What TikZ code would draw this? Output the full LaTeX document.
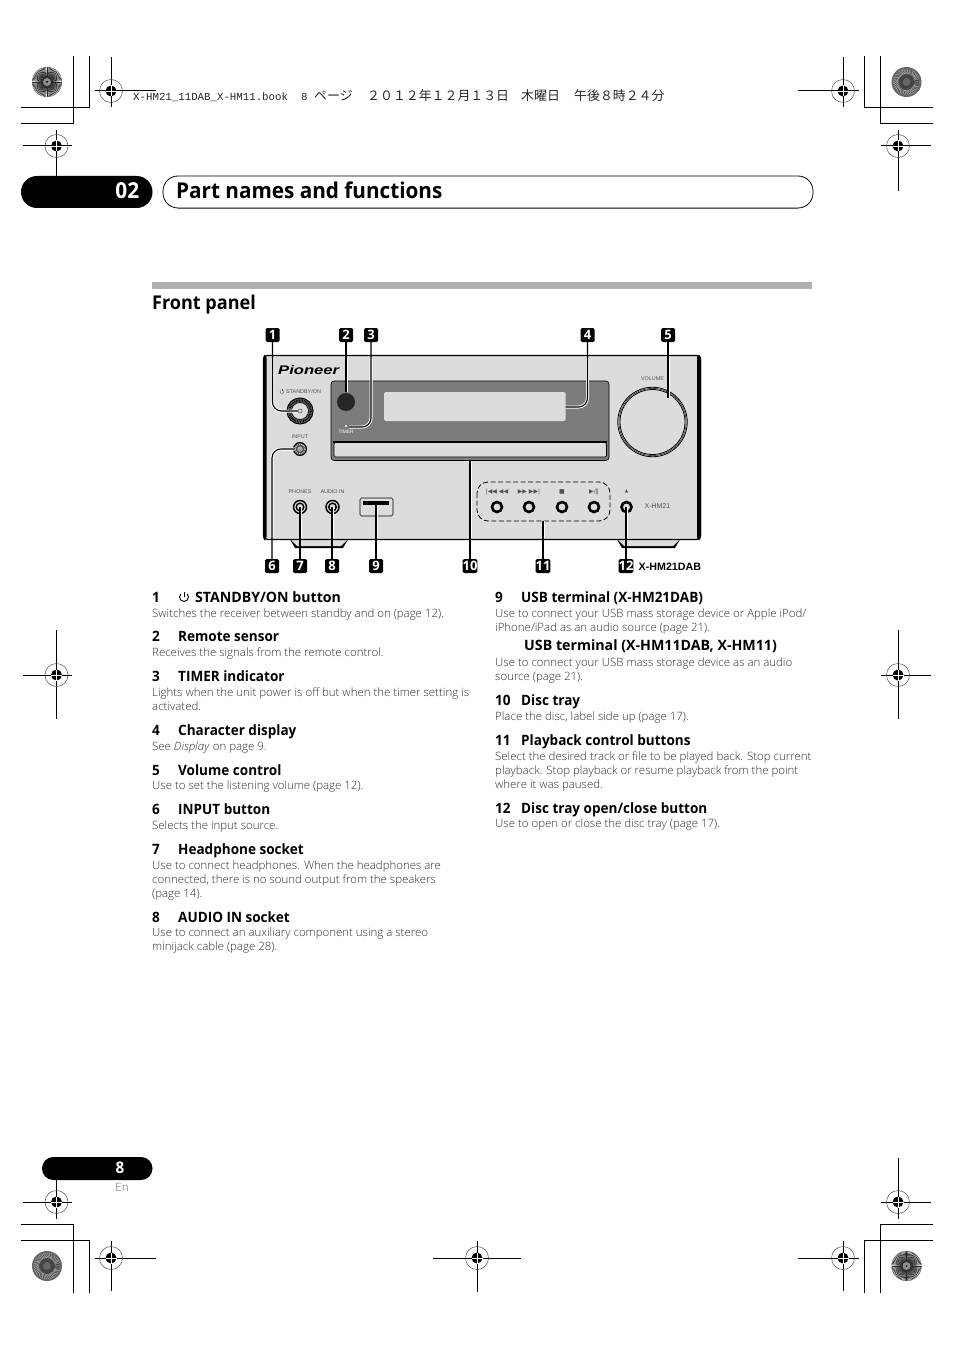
\documentclass[tikz,border=0pt]{standalone}
\usepackage{graphicx}
\usepackage{fontspec}
\setmainfont{Open Sans}
\newfontfamily\hbf[FakeStretch=0.95]{Open Sans}
\newfontfamily\lightf{Open Sans Light}
\newfontfamily\monof{Liberation Mono}
\newfontfamily\cjkf{Noto Sans CJK JP}
\newfontfamily\arialf{Liberation Sans}
\newfontfamily\symf{DejaVu Sans}
\definecolor{bodyg}{HTML}{DCDCDC}
\definecolor{panelg}{HTML}{7C7C7C}
\definecolor{txtg}{HTML}{2E2E2E}
\definecolor{labg}{HTML}{505050}
\newcommand{\fsz}[2]{\fontsize{#1}{#2}\selectfont}
\tikzset{
 crop/.style={line width=1pt,black},
 badge/.style={fill=black,rounded corners=1.5pt,minimum width=14pt,minimum height=14pt,inner sep=0pt,text=white,font=\fsz{13}{13}\bfseries},
 ttl/.style={anchor=base west,inner sep=0pt,font=\hbf\bfseries\fsz{14.25}{14}},
 dsc/.style={anchor=base west,inner sep=0pt,text=txtg,font=\lightf\fsz{11.45}{14}},
 slugt/.style={anchor=base west,inner sep=0pt,text=black!85},
 lab/.style={inner sep=0pt,text=labg,font=\arialf\fsz{5.4}{5}},
 sym/.style={inner sep=0pt,text=labg,font=\symf\fsz{6}{6}},
 halo/.style={draw=white,line width=3pt},
 lead/.style={draw=black,line width=1.1pt},
 jack/.style={circle,draw=black,line width=1.5pt,fill=bodyg,inner sep=0pt,minimum size=13pt},
 ringb/.style={circle,draw=black,line width=2.6pt,fill=bodyg,inner sep=0pt,minimum size=10pt}
}
\newcount\dc
\newcommand{\dl}[3]{\global\advance\dc by 1 \node[dsc] (dl\the\dc) at (#1,#2) {#3};}
\newcommand{\hd}[3]{\global\advance\dc by 1 \node[ttl] (hd\the\dc) at (#1,#2) {#3};}
\newcommand{\regm}[2]{%
 \draw[black!70,line width=.5pt] (#1,#2) circle (11.5);
 \fill[black] (#1,#2) circle (5.5);
 \draw[white,line width=.8pt] (#1-5.5,#2) -- (#1+5.5,#2) (#1,#2-5.5) -- (#1,#2+5.5);
}
\newcommand{\starm}[2]{%
 \foreach \a in {0,5,...,355}{\draw[black!85,line width=.6pt] (#1,#2)++(\a:3) -- ++(\a:12);}
 \draw[black!50,line width=.4pt] (#1,#2) circle (14.8);
 \fill[black!45] (#1,#2) circle (4);
 \fill[black] (#1,#2) circle (1);
}
\newcommand{\mott}[2]{%
 \fill[black!60] (#1,#2) circle (15);
 \foreach \a in {0,9,...,351}{\draw[black!75,line width=.8pt] (#1,#2)++(\a:4) -- ++(\a+30:9);\draw[black!30,line width=.5pt] (#1,#2)++(\a:8) -- ++(\a-40:6);}
}
\newcommand{\allconn}[1]{%
 \path[#1] (n1.south) -- (272.5,402) arc[start angle=180,end angle=90,radius=9] -- (t1);
 \path[#1] (n3.south)--(371,418) arc[start angle=0,end angle=90,radius=9] -- (t3);
 \path[#1] (n4.south)--(587.5,398) arc[start angle=0,end angle=90,radius=9] -- (t4);
 \path[#1] (n6.north)--(272,458) arc[start angle=180,end angle=270,radius=9] -- (t6);
 \path[#1] (n2.south)--(t2);
 \path[#1] (n5.south)--(t5);
 \path[#1] (n7.north)--(t7);
 \path[#1] (n8.north)--(t8);
 \path[#1] (n9.north)--(t9);
 \path[#1] (n10.north)--(t10);
 \path[#1] (n11.north)--(group);
 \path[#1] (n12.north)--(t12);
}
\begin{document}
\begin{tikzpicture}[x=1pt,y=-1pt]
\useasboundingbox (0,0) rectangle (954,1348);
\fill[white] (0,0) rectangle (954,1348);
% crop lines
\draw[crop] (73,56)--(73,124)--(21,124) (89,56)--(89,108)--(21,108);
\draw[crop] (880,56)--(880,124)--(933,124) (864,56)--(864,108)--(933,108);
\draw[crop] (73,1293)--(73,1224)--(21,1224) (89,1293)--(89,1240)--(21,1240);
\draw[crop] (880,1293)--(880,1224)--(933,1224) (864,1293)--(864,1240)--(933,1240);
% cross lines
\draw[crop] (95,91)--(156,91) (111,57)--(111,107);
\draw[crop] (798,91)--(859,91) (843,57)--(843,107);
\draw[crop] (23,146)--(72,146) (56.5,130)--(56.5,176);
\draw[crop] (881,146)--(931,146) (898,130)--(898,191);
\draw[crop] (23,675)--(72,675) (56.5,630)--(56.5,719);
\draw[crop] (881,675)--(931,675) (898,630)--(898,719);
\draw[crop] (23,1202)--(72,1202) (56.5,1180)--(56.5,1219);
\draw[crop] (881,1202)--(931,1202) (898,1158)--(898,1219);
\draw[crop] (95,1258)--(156,1258) (111,1241)--(111,1291);
\draw[crop] (433,1258)--(521,1258) (477,1241)--(477,1292);
\draw[crop] (798,1258)--(859,1258) (843,1241)--(843,1291);
\regm{111}{91}\regm{843}{91}\regm{56.5}{146}\regm{898}{146}\regm{56.5}{675}\regm{898}{675}
\regm{56.5}{1202}\regm{898}{1202}\regm{111}{1258}\regm{477}{1258}\regm{843}{1258}
\starm{47}{82}\mott{906.5}{82}\mott{47}{1266}\starm{906.5}{1266}
% top slug
\node[slugt] (slug) at (133,101) {\monof\fsz{10.75}{11}X-HM21\_11DAB\_X-HM11.book};
\node[slugt] (slugb) at (301,101) {\monof\fsz{10.75}{11}8};
\node[slugt] (slugc) at (314,101) {\cjkf\fsz{12.9}{13}ページ};
\node[slugt] (slugd) at (367,101) {\cjkf\fsz{12.9}{13}２０１２年１２月１３日};
\node[slugt] (sluge) at (521,101) {\cjkf\fsz{12.9}{13}木曜日};
\node[slugt] (slugf) at (574,101) {\cjkf\fsz{12.9}{13}午後８時２４分};
% header
\fill[black,rounded corners=15.9pt] (21,176) rectangle (152.5,208);
\node[inner sep=0pt,text=white,font=\hbf\bfseries\fsz{22}{22},anchor=base east] (chap) at (139.5,199) {02};
\draw[black!45,line width=1pt] (178,208.6)--(798,208.6);
\draw[black,line width=.8pt,fill=white,rounded corners=15pt] (163,176) rectangle (813,208);
\node[anchor=base west,inner sep=0pt,font=\hbf\bfseries\fsz{21.8}{24}] (title) at (176,198.5) {Part names and functions};
\fill[black!30] (152,282) rectangle (812,289);
\node[anchor=base west,inner sep=0pt,font=\hbf\bfseries\fsz{19}{19}] (front) at (152,309) {Front panel};
% page
\fill[black,rounded corners=11.4pt] (42,1157) rectangle (152.5,1180);
\node[inner sep=0pt,text=white,font=\hbf\bfseries\fsz{16}{16},anchor=base] (pg) at (120,1173) {8};
\node[inner sep=0pt,text=black!60,font=\lightf\fsz{11.5}{11},anchor=base] (en) at (122,1191) {En};
% device
\fill[black] (288,536)--(295,548)--(343,548)--(350,536)--cycle;
\fill[bodyg] (291,540)--(297,546)--(341,546)--(347,540)--cycle;
\fill[black] (615,536)--(622,548)--(675,548)--(682,536)--cycle;
\fill[bodyg] (618,540)--(624,546)--(673,546)--(679,540)--cycle;
\draw[black,line width=1.2pt,fill=bodyg,rounded corners=4pt] (263.5,355.5) rectangle (700.5,539.5);
\fill[black,rounded corners=3pt] (263,355) rectangle (266.5,540);
\fill[black,rounded corners=3pt] (697,355) rectangle (701,540);
\node[inner sep=0pt,anchor=base west] (logo) at (278,374) {\scalebox{1.33}[1]{\arialf\fsz{12.5}{12}\bfseries\itshape Pioneer}};
\draw[black,line width=.6pt,fill=panelg,rounded corners=3pt] (331,381) rectangle (609,460.5);
\fill[black] (333,441) rectangle (607,443);
\draw[black,line width=.6pt,fill=bodyg,rounded corners=1.5pt] (334,442.5) rectangle (606.5,457);
\fill[bodyg,rounded corners=1.5pt] (384,392) rectangle (565.5,421);
\fill[black!85] (346,402) circle (9);
\fill[white] (346,426) circle (1.2);
\node[inner sep=0pt,text=white,font=\arialf\fsz{4.8}{5}] (timerlab) at (346,431.5) {TIMER};
\node[lab,anchor=west] (stby) at (286,391.5) {STANDBY/ON};
\draw[labg,line width=.3pt] (283.41,390.09) arc[start angle=-45,end angle=225,radius=2];
\draw[labg,line width=.3pt] (282,388.8) -- (282,391.3);
\node[lab] (inputlab) at (300,437) {INPUT};
\node[lab] (phon) at (300,491.5) {PHONES};
\node[lab] (aud) at (332.5,491.5) {AUDIO IN};
\node[lab] (vol) at (652.5,379) {VOLUME};
\node[lab,font=\arialf\fsz{7}{7}] (model) at (657.5,506.5) {X-HM21};
\node[sym] (ic1) at (497,491.5) {|◀◀ ◀◀};
\node[sym] (ic2) at (529,491.5) {▶▶ ▶▶|};
\node[sym] (ic3) at (562,491.5) {■};
\node[sym] (ic4) at (594,491.5) {▶/‖};
\node[sym,font=\symf\fsz{4.5}{5}] (ic5) at (626.5,491.5) {▲};
% controls
\node[circle,draw=black,line width=1pt,fill=black!60,minimum size=26pt,inner sep=0pt] (standby) at (300,411) {};
\draw[black,line width=2pt,dash pattern=on .8pt off .8pt] (300,411) circle (10.8);
\node[circle,draw=black,line width=.7pt,fill=bodyg,minimum size=17pt,inner sep=0pt] (standbyi) at (300,411) {};
\node[circle,draw=black!70,line width=.5pt,inner sep=0pt,minimum size=4pt] (standbyc) at (300,411) {};
\node[circle,draw=black,line width=1pt,fill=black!70,minimum size=13pt,inner sep=0pt] (inputb) at (300,449) {};
\draw[white,line width=1pt,dash pattern=on .8pt off 1.2pt] (300,449) circle (5);
\fill[black!35] (300,449) circle (2.8);
\node[jack] (phones) at (300,507) {};
\draw[black,line width=1.4pt] (300,507) circle (3.8);
\node[jack] (audio) at (332.5,507) {};
\draw[black,line width=1.4pt] (332.5,507) circle (3.8);
\node[draw=black,line width=.6pt,fill=bodyg,rounded corners=1.5pt,minimum width=33pt,minimum height=18pt,inner sep=0pt] (usb) at (376.5,507) {};
\fill[black] (363,501) rectangle (389,505);
\node[ringb] (b1) at (497,507) {};
\node[ringb] (b2) at (529,507) {};
\node[ringb] (b3) at (562,507) {};
\node[ringb] (b4) at (594,507) {};
\node[ringb] (b5) at (626.5,507) {};
\draw[black,line width=.8pt,dash pattern=on 5pt off 2.5pt,rounded corners=11pt] (477,482) rectangle (610,521);
\coordinate (group) at (543,521);
\node[circle,draw=black,line width=.8pt,minimum size=69.5pt,inner sep=0pt] (volume) at (652.5,422) {};
\node[circle,draw=black,line width=.8pt,minimum size=65pt,inner sep=0pt] (volumei) at (652.5,422) {};
\draw[black!70,line width=.8pt] (652.5,422) circle (33.6);
% badges
\node[badge] (n1) at (272.5,335) {1};
\node[badge] (n2) at (346,335) {2};
\node[badge] (n3) at (371,335) {3};
\node[badge] (n4) at (587.5,335) {4};
\node[badge] (n5) at (668,335) {5};
\node[badge] (n6) at (272,566) {6};
\node[badge] (n7) at (300,566) {7};
\node[badge] (n8) at (332,566) {8};
\node[badge] (n9) at (376,566) {9};
\node[badge] (n10) at (470,566) {10};
\node[badge] (n11) at (543,566) {11};
\node[badge] (n12) at (626,566) {12};
\coordinate (t2) at (346,392);
\coordinate (t3) at (349,427);
\coordinate (t4) at (565.5,407);
\coordinate (t5) at (668,398);
\coordinate (t9) at (376,505);
\coordinate (t10) at (470,460.5);
\coordinate (t6) at (295,449);
\coordinate (t1) at (298,411);
\coordinate (t7) at (300,507);
\coordinate (t8) at (332,507);
\coordinate (t12) at (626,507);
% connectors: white halo only inside the unit
\begin{scope}
\clip (266,358) rectangle (697,537);
\allconn{halo}
\end{scope}
\allconn{lead}
\node[anchor=base west,inner sep=0pt,font=\arialf\fsz{10.7}{11}\bfseries] (dab) at (638.5,570.5) {X-HM21DAB};
% left text
\hd{152}{602}{1}
\draw[black,line width=.9pt] (187.2,593.8) arc[start angle=-45,end angle=225,radius=4.5];
\draw[black,line width=.9pt] (184,591.5)--(184,597);
\hd{195}{602}{\scalebox{1.045}[1]{STANDBY/ON button}}
\dl{152}{617}{Switches the receiver between standby and on (page 12).}
\hd{152}{641}{2}\hd{178}{641}{Remote sensor}
\dl{152}{656}{Receives the signals from the remote control.}
\hd{152}{681}{3}\hd{178}{681}{TIMER indicator}
\dl{152}{696}{Lights when the unit power is off but when the timer setting is}
\dl{152}{710}{activated.}
\hd{152}{735}{4}\hd{178}{735}{Character display}
\dl{152}{750}{See \textit{Display} on page 9.}
\hd{152}{775}{5}\hd{178}{775}{Volume control}
\dl{152}{789}{Use to set the listening volume (page 12).}
\hd{152}{814}{6}\hd{178}{814}{INPUT button}
\dl{152}{829}{Selects the input source.}
\hd{152}{854}{7}\hd{178}{854}{Headphone socket}
\dl{152}{869}{Use to connect headphones. When the headphones are}
\dl{152}{883}{connected, there is no sound output from the speakers}
\dl{152}{897}{(page 14).}
\hd{152}{922}{8}\hd{178}{922}{AUDIO IN socket}
\dl{152}{936}{Use to connect an auxiliary component using a stereo}
\dl{152}{950}{minijack cable (page 28).}
% right text
\hd{495}{602}{9}\hd{521}{602}{USB terminal (X-HM21DAB)}
\dl{495}{617}{Use to connect your USB mass storage device or Apple iPod/}
\dl{495}{631}{iPhone/iPad as an audio source (page 21).}
\hd{524}{650}{\scalebox{1.05}[1]{USB terminal (X-HM11DAB, X-HM11)}}
\dl{495}{666}{Use to connect your USB mass storage device as an audio}
\dl{495}{680}{source (page 21).}
\hd{495}{705}{10}\hd{521}{705}{Disc tray}
\dl{495}{720}{Place the disc, label side up (page 17).}
\hd{495}{745}{11}\hd{521}{745}{Playback control buttons}
\dl{495}{760}{Select the desired track or file to be played back. Stop current}
\dl{495}{774}{playback. Stop playback or resume playback from the point}
\dl{495}{788}{where it was paused.}
\hd{495}{813}{12}\hd{521}{813}{Disc tray open/close button}
\dl{495}{827}{Use to open or close the disc tray (page 17).}
\end{tikzpicture}
\end{document}
